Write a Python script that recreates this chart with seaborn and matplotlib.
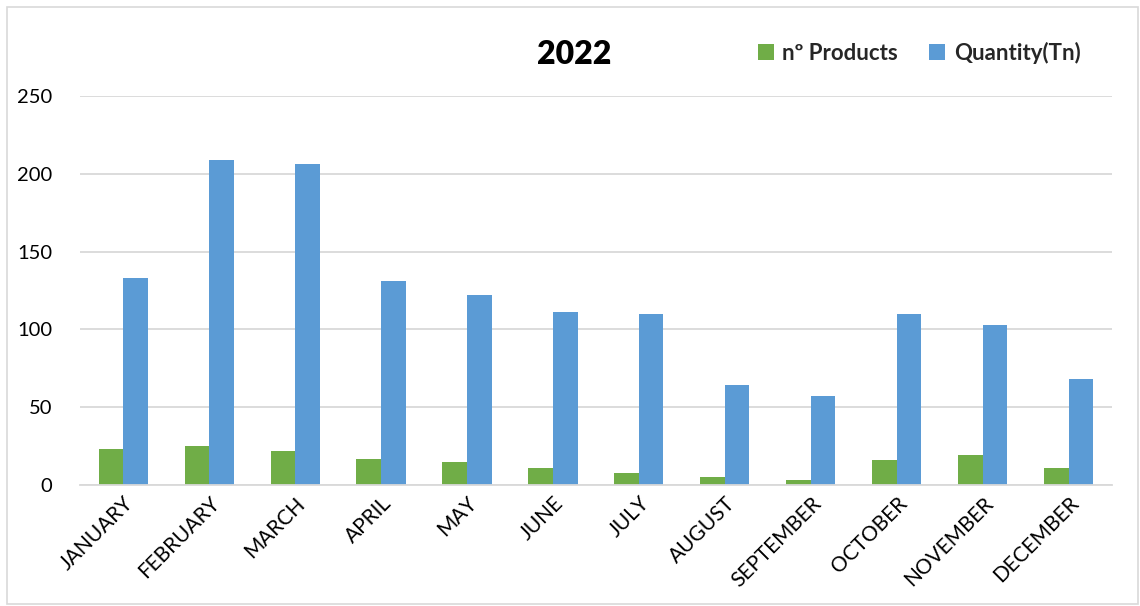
import matplotlib
matplotlib.use("Agg")
import matplotlib.pyplot as plt
import seaborn as sns
import pandas as pd
from matplotlib.patches import Rectangle

months = ["JANUARY", "FEBRUARY", "MARCH", "APRIL", "MAY", "JUNE", "JULY",
          "AUGUST", "SEPTEMBER", "OCTOBER", "NOVEMBER", "DECEMBER"]
n_products = [23, 25, 22, 17, 15, 11, 8, 5, 3, 16, 19, 11]
quantity_tn = [133, 209, 206, 131, 122, 111, 110, 64, 57, 110, 103, 68]
series_names = ["nº Products", "Quantity(Tn)"]
yticks = [0, 50, 100, 150, 200, 250]

df = pd.DataFrame({
    "month": months * 2,
    "value": n_products + quantity_tn,
    "series": [series_names[0]] * len(months) + [series_names[1]] * len(months),
})

sns.set_theme(style="white")
plt.rcParams["font.family"] = ["Lato", "DejaVu Sans"]

fig = plt.figure(figsize=(11.4, 6.06), dpi=100)
ax = fig.add_axes([0.0702, 0.1997, 0.9052, 0.6419])

palette = {series_names[0]: "#70AD47", series_names[1]: "#5B9BD5"}
sns.barplot(data=df, x="month", y="value", hue="series", order=months,
            hue_order=series_names, palette=palette, width=0.57, gap=0,
            saturation=1, ax=ax, legend=True, edgecolor="none")

ax.set_ylim(0, 250)
ax.set_yticks(yticks)
ax.set_xlim(-0.5, len(months) - 0.5)
ax.yaxis.grid(True, color="#D9D9D9", linewidth=1.3)
ax.set_axisbelow(True)
for s in ["top", "right", "left"]:
    ax.spines[s].set_visible(False)
ax.spines["bottom"].set_color("#D9D9D9")
ax.spines["bottom"].set_linewidth(1.3)
ax.set_xlabel("")
ax.set_ylabel("")
ax.tick_params(axis="y", length=0, labelsize=14.5, pad=20, colors="black")
ax.tick_params(axis="x", length=0, labelsize=15, pad=6, colors="black")
plt.setp(ax.get_xticklabels(), rotation=45, ha="right", rotation_mode="anchor")

leg = ax.legend(loc="center left", bbox_to_anchor=(758 / 1140, 1 - 53 / 606),
                bbox_transform=fig.transFigure, ncol=2,
                frameon=False, fontsize=16, handlelength=0.7, handleheight=0.7,
                handletextpad=0.4, columnspacing=1.4, borderpad=0, borderaxespad=0)
for t in leg.get_texts():
    t.set_fontweight("bold")

fig.text(0.504, 0.910, "2022", ha="center", va="center", fontsize=23,
         fontweight="heavy", color="black")

fig.patches.append(Rectangle((0.006, 0.004), 0.992, 0.984, transform=fig.transFigure,
                             fill=False, edgecolor="#D9D9D9", linewidth=1.2))

fig.savefig("out.png", dpi=100)
